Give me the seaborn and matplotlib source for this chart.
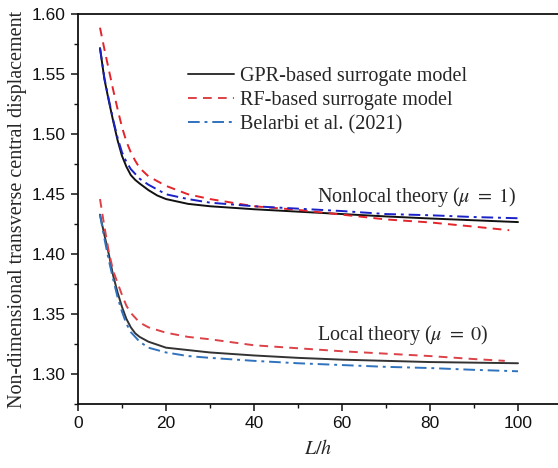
import numpy as np
import pandas as pd
import matplotlib
matplotlib.use("Agg")
import matplotlib.pyplot as plt
import seaborn as sns

# ---- data ----
x_gpr_nl = [5, 6, 7, 8, 9, 10, 11, 12, 13, 14, 16, 18, 20, 25, 30, 40, 50, 60, 70, 80, 90, 100]
gpr_nl = [1.572, 1.546, 1.528, 1.511, 1.495, 1.482, 1.473, 1.466, 1.462, 1.459, 1.4535, 1.449,
          1.446, 1.442, 1.440, 1.4375, 1.4355, 1.4335, 1.4315, 1.4298, 1.4283, 1.4268]

x_rf_nl = [5, 6, 7, 8, 9, 10, 11, 12, 13, 14, 16, 20, 25, 30, 40, 50, 60, 70, 80, 90, 98]
rf_nl = [1.589, 1.571, 1.554, 1.537, 1.521, 1.506, 1.494, 1.485, 1.478, 1.472, 1.465, 1.457,
         1.450, 1.446, 1.440, 1.437, 1.433, 1.429, 1.4265, 1.423, 1.420]

x_bel_nl = [5, 6, 7, 8, 9, 10, 11, 12, 14, 16, 20, 25, 30, 40, 50, 60, 70, 80, 90, 100]
bel_nl = [1.572, 1.547, 1.529, 1.512, 1.497, 1.485, 1.477, 1.471, 1.463, 1.458, 1.450, 1.446,
          1.443, 1.440, 1.438, 1.436, 1.4335, 1.4325, 1.431, 1.430]

x_gpr_l = [5, 6, 7, 8, 9, 10, 11, 12, 13, 14, 16, 18, 20, 25, 30, 40, 50, 60, 70, 80, 90, 100]
gpr_l = [1.433, 1.416, 1.400, 1.382, 1.368, 1.356, 1.346, 1.339, 1.334, 1.331, 1.327, 1.3245,
         1.322, 1.320, 1.318, 1.3155, 1.3135, 1.312, 1.311, 1.310, 1.3095, 1.309]

x_rf_l = [5, 6, 7, 8, 9, 10, 11, 12, 14, 16, 20, 25, 30, 40, 50, 60, 70, 80, 90, 97]
rf_l = [1.446, 1.423, 1.402, 1.386, 1.376, 1.366, 1.357, 1.351, 1.343, 1.339, 1.3345, 1.331,
        1.329, 1.324, 1.3215, 1.319, 1.317, 1.315, 1.3125, 1.311]

x_bel_l = [5, 6, 7, 8, 9, 10, 11, 12, 14, 16, 20, 25, 30, 40, 50, 60, 70, 80, 90, 100]
bel_l = [1.433, 1.413, 1.395, 1.379, 1.364, 1.352, 1.342, 1.335, 1.327, 1.322, 1.318, 1.315,
         1.3135, 1.311, 1.309, 1.3075, 1.306, 1.305, 1.3035, 1.3023]

legend_labels = ["GPR-based surrogate model", "RF-based surrogate model", "Belarbi et al. (2021)"]
x_ticks = [0, 20, 40, 60, 80, 100]
y_ticks = [1.30, 1.35, 1.40, 1.45, 1.50, 1.55, 1.60]

# ---- style ----
sns.set_theme(style="ticks")
plt.rcParams["font.family"] = ["Liberation Serif", "DejaVu Serif"]
plt.rcParams["mathtext.fontset"] = "stix"

fig = plt.figure(figsize=(5.58, 4.68), dpi=100)
ax = fig.add_axes([78 / 558, 64 / 468, 480 / 558, 389.5 / 468])

lw = 1.4
dash = (4.5, 3.2)
dashdot = (6, 2.5, 1.5, 2.5)

# nonlocal
sns.lineplot(x=x_gpr_nl, y=gpr_nl, ax=ax, color="#111111", lw=lw)
sns.lineplot(x=x_rf_nl, y=rf_nl, ax=ax, color="#e3242b", lw=lw)
sns.lineplot(x=x_bel_nl, y=bel_nl, ax=ax, color="#1a22c8", lw=lw)
# local
sns.lineplot(x=x_gpr_l, y=gpr_l, ax=ax, color="#333333", lw=lw, label=legend_labels[0])
sns.lineplot(x=x_rf_l, y=rf_l, ax=ax, color="#dc4248", lw=lw, label=legend_labels[1])
sns.lineplot(x=x_bel_l, y=bel_l, ax=ax, color="#2f72bd", lw=lw, label=legend_labels[2])

lines = ax.get_lines()
lines[1].set_dashes(dash)
lines[2].set_dashes(dashdot)
lines[4].set_dashes(dash)
lines[5].set_dashes(dashdot)

ax.set_xlim(0, 480 / 4.4)
ax.set_ylim(1.275, 1.60)
ax.set_xticks(x_ticks)
ax.set_yticks(y_ticks)
ax.set_xticks([10, 30, 50, 70, 90], minor=True)
ax.set_yticks([1.275, 1.325, 1.375, 1.425, 1.475, 1.525, 1.575], minor=True)
ax.set_xticklabels([str(v) for v in x_ticks], fontfamily="Liberation Sans", fontsize=12.5)
ax.set_yticklabels([f"{v:.2f}" for v in y_ticks], fontfamily="Liberation Sans", fontsize=12.5)
ax.tick_params(which="major", direction="out", length=5, width=1.1, colors="#111111", pad=4)
ax.tick_params(which="minor", direction="out", length=3, width=1.0, colors="#111111")

for s in ["left", "bottom", "top"]:
    ax.spines[s].set_linewidth(1.3)
    ax.spines[s].set_color("#111111")
ax.spines["right"].set_visible(False)

ax.set_xlabel("$L/h$", fontsize=14.5, labelpad=6)
ax.set_ylabel("Non-dimensional transverse central displacement", fontsize=14.5, labelpad=3)

ax.text(54.3, 1.4479, "Nonlocal theory ($\\mu\\ =\\ 1$)", fontsize=14.5, ha="left", va="center")
ax.text(54.3, 1.3329, "Local theory ($\\mu\\ =\\ 0$)", fontsize=14.5, ha="left", va="center")

leg = ax.legend(loc="upper left", bbox_to_anchor=(102 / 480, 1 - 44 / 389.5), frameon=False,
                fontsize=14.5, handlelength=2.3, handletextpad=0.3, labelspacing=0.25,
                borderaxespad=0)

fig.savefig("out.png", dpi=100)
